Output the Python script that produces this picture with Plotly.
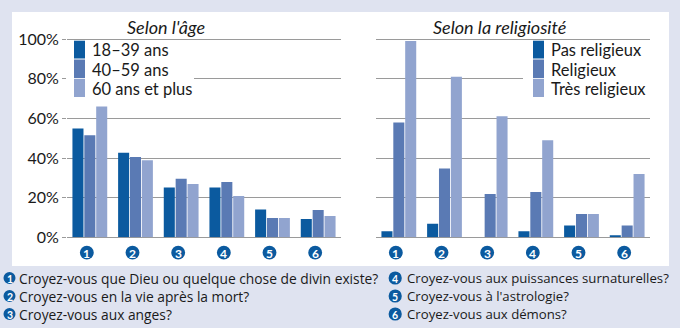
import plotly.graph_objects as go

W, H = 680, 328

questions = [1, 2, 3, 4, 5, 6]
question_texts = [
    "Croyez-vous que Dieu ou quelque chose de divin existe?",
    "Croyez-vous en la vie après la mort?",
    "Croyez-vous aux anges?",
    "Croyez-vous aux puissances surnaturelles?",
    "Croyez-vous à l'astrologie?",
    "Croyez-vous aux démons?",
]

age_names = ["18–39 ans", "40–59 ans", "60 ans et plus"]
age_18_39 = [55, 42.7, 25.2, 25.2, 14, 9.2]
age_40_59 = [51.5, 40.5, 29.6, 27.9, 9.7, 13.8]
age_60_plus = [66, 38.9, 26.9, 20.9, 9.7, 10.8]

rel_names = ["Pas religieux", "Religieux", "Très religieux"]
rel_pas = [3, 6.9, 0, 3, 5.9, 0.8]
rel_rel = [58, 34.8, 21.9, 22.9, 11.8, 5.9]
rel_tres = [99.1, 81.1, 61.1, 49, 11.8, 32]

y_ticks = [0, 20, 40, 60, 80, 100]
y_ticklabels = ["0%", "20%", "40%", "60%", "80%", "100%"]

titles = ["Selon l'âge", "Selon la religiosité"]

colors = ["#0b5a9f", "#5a7ab4", "#91a4cf"]
BG = "#dfe3f0"
GRID = "#9a9a9a"
FONT = "Lato"
NOTE_FONT = "Open Sans"
TXT = "#1a1a1a"


def px(x):
    return x / W


def py(y):
    return 1 - y / H


fig = go.Figure()
for vals, name, c in zip([age_18_39, age_40_59, age_60_plus], age_names, colors):
    fig.add_trace(go.Bar(x=questions, y=vals, name=name, marker=dict(color=c, line=dict(width=0)),
                         xaxis="x", yaxis="y", showlegend=False))
for vals, name, c in zip([rel_pas, rel_rel, rel_tres], rel_names, colors):
    fig.add_trace(go.Bar(x=questions, y=vals, name=name, marker=dict(color=c, line=dict(width=0)),
                         xaxis="x2", yaxis="y2", showlegend=False))

ydom = [py(237.3), py(37.3)]
common_y = dict(range=[0, 101], domain=ydom, tickvals=y_ticks, showgrid=True, gridcolor=GRID,
                gridwidth=1, zeroline=True, zerolinecolor=GRID, zerolinewidth=1, fixedrange=True,
                automargin=False, showline=False)
common_x = dict(type="linear", range=[0.5, 6.5], showticklabels=False, showgrid=False, zeroline=False,
                showline=False, ticks="", fixedrange=True, automargin=False)

fig.update_layout(
    template="none",
    width=W, height=H, autosize=False,
    margin=dict(l=0, r=0, t=0, b=0, pad=0, autoexpand=False),
    showlegend=False,
    paper_bgcolor=BG, plot_bgcolor="rgba(0,0,0,0)",
    barmode="group", bargap=0.22, bargroupgap=0.07,
    font=dict(family=FONT, size=15, color=TXT),
    xaxis=dict(domain=[px(67), px(341)], anchor="y", **common_x),
    yaxis=dict(anchor="x", ticktext=y_ticklabels, ticks="outside", ticklen=4, tickcolor=GRID,
               tickfont=dict(family=FONT, size=16, color=TXT), **common_y),
    xaxis2=dict(domain=[px(376), px(650)], anchor="y2", **common_x),
    yaxis2=dict(anchor="x2", showticklabels=False, **common_y),
)

shapes = [
    dict(type="rect", xref="paper", yref="paper", x0=px(12), x1=px(669), y0=py(266), y1=py(12),
         fillcolor="white", line=dict(width=0), layer="below"),
    dict(type="rect", xref="paper", yref="paper", x0=px(66), x1=px(194), y0=py(99), y1=py(41),
         fillcolor="white", line=dict(width=0), layer="above"),
    dict(type="rect", xref="paper", yref="paper", x0=px(523), x1=px(651), y0=py(99), y1=py(41),
         fillcolor="white", line=dict(width=0), layer="above"),
]
annotations = []

# category markers under each axis: dark circles with white digits
AXIS_MARK_Y = 252.6
AR = 6.9
SHIFT = -3
for xr in ["x", "x2"]:
    for q in questions:
        shapes.append(dict(type="circle", xref=xr, yref="paper", xsizemode="pixel", ysizemode="pixel",
                           xanchor=q, yanchor=py(AXIS_MARK_Y), x0=SHIFT - AR, x1=SHIFT + AR, y0=-AR, y1=AR,
                           fillcolor=colors[0], line=dict(width=0), layer="above"))
        annotations.append(dict(text="<b>%d</b>" % q, xref=xr, x=q, xshift=SHIFT, yref="paper",
                                y=py(AXIS_MARK_Y + 0.5), xanchor="center", yanchor="middle",
                                showarrow=False, borderpad=0,
                                font=dict(family=FONT, size=12, color="white")))

row_tops = [40.7, 59.5, 78.8]
row_bots = [58.5, 78.0, 97.0]
row_centers = [50, 70, 89]
for leg_x, names in [(74, age_names), (533, rel_names)]:
    for i, name in enumerate(names):
        shapes.append(dict(type="rect", xref="paper", yref="paper", x0=px(leg_x), x1=px(leg_x + 11),
                           y0=py(row_bots[i]), y1=py(row_tops[i]), fillcolor=colors[i],
                           line=dict(width=0), layer="above"))
        annotations.append(dict(text=name, xref="paper", yref="paper", x=px(leg_x + 16), y=py(row_centers[i]),
                                xanchor="left", yanchor="middle", showarrow=False,
                                font=dict(family=FONT, size=16.5, color=TXT)))

for t, cx in zip(titles, [166, 500]):
    annotations.append(dict(text="<i>" + t + "</i>", xref="paper", yref="paper", x=px(cx), y=py(27),
                            xanchor="center", yanchor="middle", showarrow=False,
                            font=dict(family=FONT, size=18, color=TXT)))

row_y = [278, 296, 314]
circle_x = [9.5, 395.2]
circle_r = [6.0, 6.6]
text_x = [16.5, 405]
note_size = [13.8, 13.2]
for i, (q, qt) in enumerate(zip(questions, question_texts)):
    col = i // 3
    r = i % 3
    cx, cy, R = circle_x[col], row_y[r], circle_r[col]
    shapes.append(dict(type="circle", xref="paper", yref="paper",
                       x0=px(cx - R), x1=px(cx + R), y0=py(cy + R), y1=py(cy - R),
                       fillcolor=colors[0], line=dict(width=0), layer="above"))
    annotations.append(dict(text="<b>%d</b>" % q, xref="paper", yref="paper", x=px(cx), y=py(cy + 0.5),
                            xanchor="center", yanchor="middle", showarrow=False, borderpad=0,
                            font=dict(family=FONT, size=10.5, color="white")))
    annotations.append(dict(text=qt, xref="paper", yref="paper", x=px(text_x[col]), y=py(cy),
                            xanchor="left", yanchor="middle", showarrow=False,
                            font=dict(family=NOTE_FONT, size=note_size[col], color=TXT)))

fig.update_layout(shapes=shapes, annotations=annotations)
fig.write_html("out.html")
